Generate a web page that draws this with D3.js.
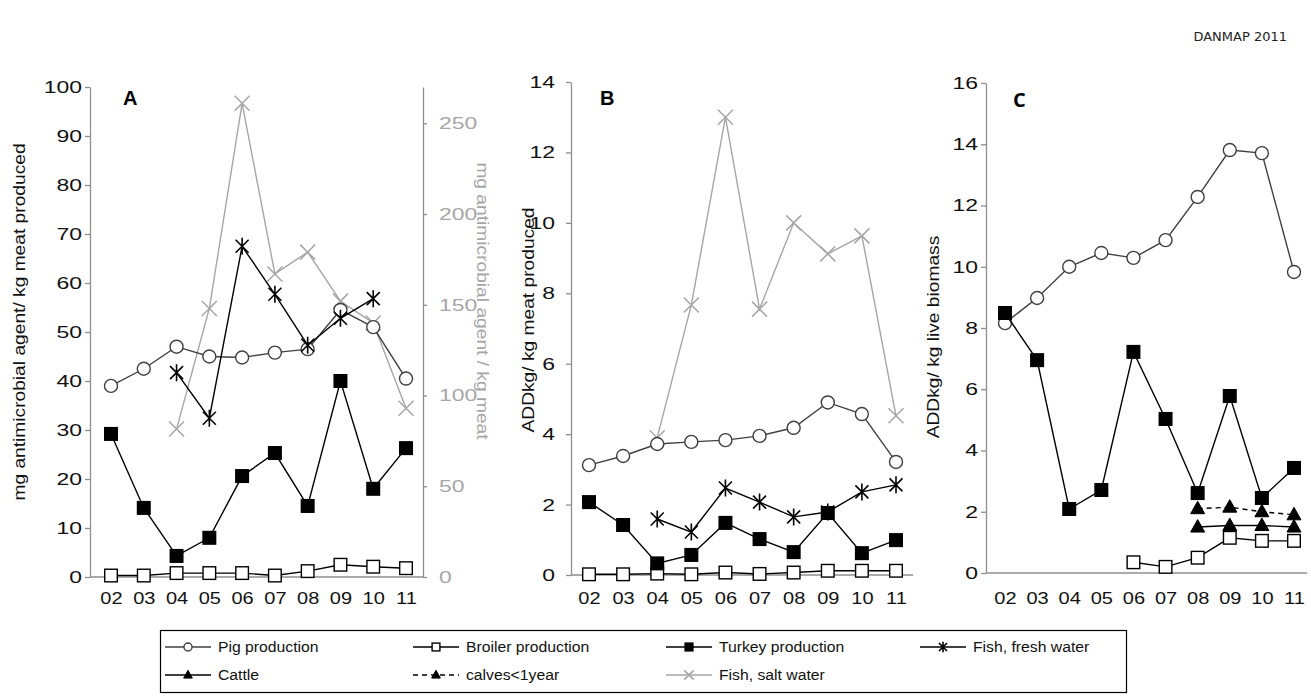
<!DOCTYPE html>
<html>
<head>
<meta charset="utf-8">
<script src="https://cdn.jsdelivr.net/npm/d3@7"></script>
<style>
  body { margin: 0; background: #fff; }
  svg { display: block; }
</style>
</head>
<body>
<svg id="chart" width="1311" height="699"></svg>
<script>
// ---- data -------------------------------------------------------------
const years = ["02", "03", "04", "05", "06", "07", "08", "09", "10", "11"];

// A: mg antimicrobial agent per kg meat produced (salt-water fish on right axis)
const pigA       = [39.0, 42.5, 47.0, 45.0, 44.8, 45.8, 46.5, 54.5, 51.0, 40.5];
const broilerA   = [0.3, 0.3, 0.8, 0.8, 0.8, 0.3, 1.2, 2.5, 2.1, 1.8];
const turkeyA    = [29.2, 14.1, 4.3, 8.0, 20.6, 25.3, 14.5, 40.0, 18.0, 26.3];
const freshFishA = [null, null, 41.7, 32.4, 67.5, 57.7, 47.3, 52.8, 56.8, null];
const saltFishA  = [null, null, 81.5, 148, 261, 167, 179, 152, 140, 93];

// B: ADDkg per kg meat produced
const pigB       = [3.12, 3.38, 3.72, 3.78, 3.83, 3.95, 4.18, 4.90, 4.57, 3.21];
const broilerB   = [0.02, 0.02, 0.04, 0.02, 0.07, 0.03, 0.07, 0.12, 0.12, 0.12];
const turkeyB    = [2.07, 1.42, 0.33, 0.57, 1.48, 1.02, 0.65, 1.76, 0.62, 0.99];
const freshFishB = [null, null, 1.59, 1.22, 2.47, 2.07, 1.65, 1.79, 2.36, 2.56];
const saltFishB  = [null, null, 3.90, 7.67, 13.0, 7.55, 10.0, 9.12, 9.63, 4.52];

// C: ADDkg per kg live biomass
const pigC     = [8.16, 8.98, 10.0, 10.45, 10.29, 10.87, 12.28, 13.81, 13.71, 9.83];
const turkeyC  = [8.49, 6.95, 2.09, 2.71, 7.22, 5.03, 2.61, 5.78, 2.45, 3.43];
const broilerC = [null, null, null, null, 0.35, 0.2, 0.5, 1.15, 1.05, 1.05];
const cattleC  = [null, null, null, null, null, null, 1.5, 1.55, 1.55, 1.5];
const calvesC  = [null, null, null, null, null, null, 2.1, 2.15, 2.0, 1.9];

// tick labels
const ticksA      = [0, 10, 20, 30, 40, 50, 60, 70, 80, 90, 100];
const ticksARight = [0, 50, 100, 150, 200, 250];
const ticksB      = [0, 2, 4, 6, 8, 10, 12, 14];
const ticksC      = [0, 2, 4, 6, 8, 10, 12, 14, 16];

const legendItems = [
  { key: "pig",     label: "Pig production" },
  { key: "broiler", label: "Broiler production" },
  { key: "turkey",  label: "Turkey production" },
  { key: "fresh",   label: "Fish, fresh water" },
  { key: "cattle",  label: "Cattle" },
  { key: "calves",  label: "calves<1year" },
  { key: "salt",    label: "Fish, salt water" }
];

// ---- styles -----------------------------------------------------------
const FONT = "'Liberation Sans', Arial, sans-serif";
const AXIS_GREY = "#8f8f8f";
const SALT_GREY = "#a6a6a6";

const styles = {
  pig:     { stroke: "#404040", marker: "circle",   fill: "#fff" },
  broiler: { stroke: "#000",    marker: "square",   fill: "#fff" },
  turkey:  { stroke: "#000",    marker: "square",   fill: "#000" },
  fresh:   { stroke: "#000",    marker: "asterisk" },
  salt:    { stroke: SALT_GREY, marker: "cross" },
  cattle:  { stroke: "#000",    marker: "triangle", fill: "#000" },
  calves:  { stroke: "#000",    marker: "triangle", fill: "#000", dash: "5,4" }
};

const svg = d3.select("#chart");
svg.append("rect").attr("width", 1311).attr("height", 699).attr("fill", "#fff");

function drawMarker(g, st, k) {
  const sw = 1.4;
  switch (st.marker) {
    case "circle":
      g.append("circle").attr("r", 6.5 * k)
        .attr("fill", st.fill).attr("stroke", st.stroke).attr("stroke-width", sw);
      break;
    case "square":
      g.append("rect").attr("x", -6.3 * k).attr("y", -6.3 * k)
        .attr("width", 12.6 * k).attr("height", 12.6 * k)
        .attr("fill", st.fill).attr("stroke", "#000").attr("stroke-width", sw);
      break;
    case "triangle":
      g.append("path")
        .attr("d", `M0,${-7.5 * k}L${7 * k},${5 * k}L${-7 * k},${5 * k}Z`)
        .attr("fill", st.fill).attr("stroke", "#000").attr("stroke-width", 1);
      break;
    case "asterisk":
      g.append("path")
        .attr("d", `M${-6.5 * k},${-6.5 * k}L${6.5 * k},${6.5 * k}M${-6.5 * k},${6.5 * k}L${6.5 * k},${-6.5 * k}M0,${-8.5 * k}L0,${8.5 * k}`)
        .attr("fill", "none").attr("stroke", st.stroke).attr("stroke-width", 1.6);
      break;
    case "cross":
      g.append("path")
        .attr("d", `M${-7.5 * k},${-7.5 * k}L${7.5 * k},${7.5 * k}M${-7.5 * k},${7.5 * k}L${7.5 * k},${-7.5 * k}`)
        .attr("fill", "none").attr("stroke", st.stroke).attr("stroke-width", 1.5);
      break;
  }
}

// widen tick text horizontally around its anchor
function stretchText(sel, k) {
  sel.each(function () {
    const t = d3.select(this);
    const x = +t.attr("x") || 0;
    const y = +t.attr("y") || 0;
    t.attr("x", 0).attr("y", 0).attr("transform", `translate(${x},${y}) scale(${k},1)`);
  });
}

function styleAxis(g, color, textColor) {
  g.attr("font-family", FONT).attr("font-size", 17);
  g.selectAll("path.domain, line").attr("stroke", color).attr("stroke-width", 1.3);
  g.selectAll("text").attr("fill", textColor);
}

function drawSeries(g, x, y, values, st) {
  const pts = years.map((yr, i) => ({ yr, v: values[i] }));
  const line = d3.line()
    .defined(d => d.v != null)
    .x(d => x(d.yr)).y(d => y(d.v));
  g.append("path").datum(pts)
    .attr("d", line)
    .attr("fill", "none")
    .attr("stroke", st.stroke)
    .attr("stroke-width", 1.4)
    .attr("stroke-dasharray", st.dash || null);
  pts.filter(d => d.v != null).forEach(d => {
    const m = g.append("g").attr("transform", `translate(${x(d.yr)},${y(d.v)})`);
    drawMarker(m, st, 1);
  });
}

function panel(cfg) {
  const g = svg.append("g");
  const x = d3.scalePoint().domain(years).range(cfg.xr);
  const y = d3.scaleLinear().domain(cfg.ydom).range(cfg.yr);
  const y0 = y(0);

  // value axis
  const ya = g.append("g")
    .attr("transform", `translate(${cfg.ax},0)`)
    .call(d3.axisLeft(y).tickValues(cfg.ticks).tickSize(5).tickSizeOuter(0).tickPadding(cfg.pad));
  styleAxis(ya, AXIS_GREY, "#111");
  stretchText(ya.selectAll("text"), 1.35);

  // category axis
  g.append("line")
    .attr("x1", cfg.ax).attr("x2", cfg.xEnd)
    .attr("y1", y0).attr("y2", y0)
    .attr("stroke", AXIS_GREY).attr("stroke-width", 1.3);
  const xa = g.append("g")
    .attr("transform", `translate(0,${y0})`)
    .call(d3.axisBottom(x).tickSize(0).tickPadding(604 - 11.4 - y0));
  xa.select("path.domain").remove();
  xa.attr("font-family", FONT).attr("font-size", 16);
  xa.selectAll("text").attr("fill", "#111");
  stretchText(xa.selectAll("text"), 1.25);

  let yR = null;
  if (cfg.right) {
    yR = d3.scaleLinear().domain(cfg.right.dom).range(cfg.yr);
    const ra = g.append("g")
      .attr("transform", `translate(${cfg.xEnd},0)`)
      .call(d3.axisRight(yR).tickValues(cfg.right.ticks).tickSize(4).tickSizeOuter(0).tickPadding(12));
    styleAxis(ra, AXIS_GREY, SALT_GREY);
    stretchText(ra.selectAll("text"), 1.35);
  }

  cfg.series.forEach(s => {
    drawSeries(g, x, s.right ? yR : y, s.values, styles[s.key]);
  });

  // panel letter
  g.append("text")
    .attr("x", cfg.letterX).attr("y", cfg.letterY)
    .attr("font-family", cfg.letterFont || FONT)
    .attr("font-weight", "bold").attr("font-size", 20)
    .attr("fill", "#000")
    .text(cfg.letter);
}

panel({
  xr: [111, 406], ax: 90, xEnd: 423,
  ydom: [0, 100], yr: [577, 87], ticks: ticksA, pad: 3,
  right: { dom: [0, 270], ticks: ticksARight },
  letter: "A", letterX: 123, letterY: 105,
  series: [
    { key: "salt", values: saltFishA, right: true },
    { key: "pig", values: pigA },
    { key: "broiler", values: broilerA },
    { key: "turkey", values: turkeyA },
    { key: "fresh", values: freshFishA }
  ]
});

panel({
  xr: [589, 896], ax: 571, xEnd: 913,
  ydom: [0, 14], yr: [575, 82], ticks: ticksB, pad: 11,
  letter: "B", letterX: 600, letterY: 105,
  series: [
    { key: "salt", values: saltFishB },
    { key: "pig", values: pigB },
    { key: "broiler", values: broilerB },
    { key: "turkey", values: turkeyB },
    { key: "fresh", values: freshFishB }
  ]
});

panel({
  xr: [1005, 1294], ax: 986, xEnd: 1307,
  ydom: [0, 16], yr: [573, 83], ticks: ticksC, pad: 3,
  letter: "C", letterX: 1013, letterY: 107, letterFont: "'Open Sans', sans-serif",
  series: [
    { key: "pig", values: pigC },
    { key: "turkey", values: turkeyC },
    { key: "broiler", values: broilerC },
    { key: "calves", values: calvesC },
    { key: "cattle", values: cattleC }
  ]
});

// axis titles
function vTitle(text, cx, cy, angle, color) {
  svg.append("text")
    .attr("transform", `translate(${cx},${cy}) rotate(${angle}) scale(1.2,1)`)
    .attr("text-anchor", "middle")
    .attr("font-family", FONT).attr("font-size", 16)
    .attr("fill", color)
    .text(text);
}
vTitle("mg antimicrobial agent/ kg meat produced", 24.5, 322, -90, "#111");
vTitle("mg antimicrobial agent / kg meat", 476.5, 301, 90, SALT_GREY);
vTitle("ADDkg/ kg meat produced", 533.5, 320, -90, "#111");
vTitle("ADDkg/ kg live biomass", 938.5, 337, -90, "#111");

// header
svg.append("text")
  .attr("x", 1287).attr("y", 41)
  .attr("text-anchor", "end")
  .attr("font-family", "'DejaVu Sans', Verdana, sans-serif")
  .attr("font-size", 13).attr("fill", "#222")
  .text("DANMAP 2011");

// legend
const legend = svg.append("g");
legend.append("rect")
  .attr("x", 160.5).attr("y", 630.5).attr("width", 966).attr("height", 62)
  .attr("fill", "#fff").attr("stroke", "#000").attr("stroke-width", 1.2);

const legendCols = [165, 413, 666, 920];
const legendRows = [647, 675];
legendItems.forEach((it, i) => {
  const col = i < 4 ? i : i - 4;
  const row = i < 4 ? 0 : 1;
  const x0 = legendCols[col], yy = legendRows[row];
  const st = styles[it.key];
  legend.append("line")
    .attr("x1", x0).attr("x2", x0 + 46)
    .attr("y1", yy).attr("y2", yy)
    .attr("stroke", st.stroke).attr("stroke-width", 1.4)
    .attr("stroke-dasharray", st.dash || null);
  const m = legend.append("g").attr("transform", `translate(${x0 + 23},${yy})`);
  drawMarker(m, st, 0.62);
  legend.append("text")
    .attr("transform", `translate(${x0 + 53},${yy}) scale(1.05,1)`)
    .attr("dy", "0.35em")
    .attr("font-family", FONT).attr("font-size", 15)
    .attr("fill", "#111")
    .text(it.label);
});
</script>
</body>
</html>
